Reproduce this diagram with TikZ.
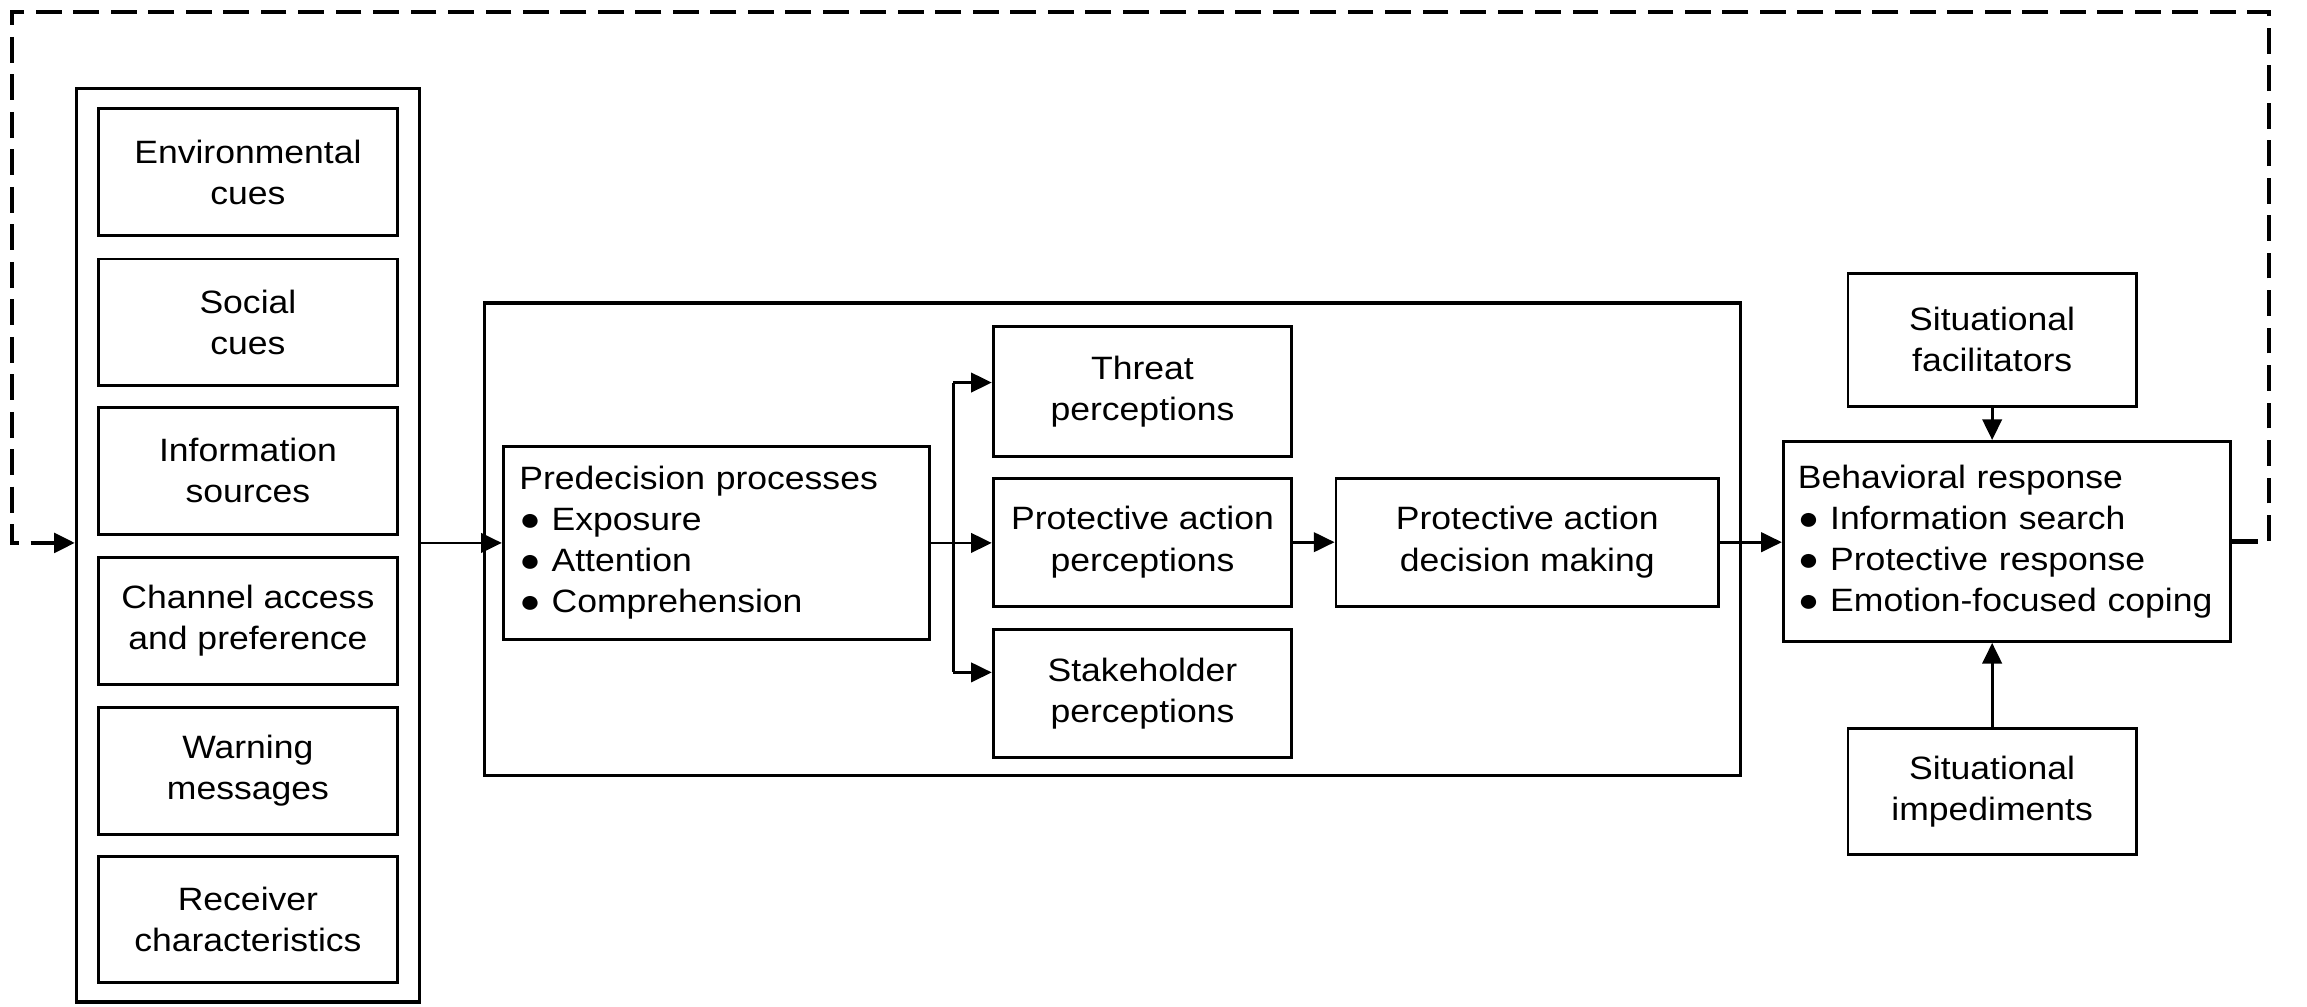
\documentclass[tikz,border=0pt]{standalone}
\usepackage{fontspec}
\setmainfont[FakeStretch=1.1]{Liberation Sans}
\usetikzlibrary{arrows.meta}
\begin{document}
\begin{tikzpicture}[x=0.02cm,y=-0.02cm,
  font=\fontsize{12.5}{15.9}\selectfont,
  box/.style={draw, line width=1.1pt, inner sep=0pt, align=center},
  cont/.style={draw, line width=1.3pt, inner sep=0pt},
  listbox/.style={draw, line width=1.1pt, align=left, inner ysep=0pt},
  arr/.style={line width=1.1pt, -{Triangle[length=8pt,width=7.5pt]}},
  ln/.style={line width=1.1pt},
  looparr/.style={line width=1.6pt, dash pattern=on 10pt off 4.5pt, -{Triangle[length=8pt,width=7.5pt]}},
]
\useasboundingbox (0,0) rectangle (1568,684);

% left container
\node[cont, minimum width=4.66cm, minimum height=12.42cm] (leftc) at (168.5,370.5) {};
\node[box, minimum width=4.06cm, minimum height=1.72cm] (env)  at (168.5,117) {Environmental\\cues};
\node[box, minimum width=4.06cm, minimum height=1.72cm] (soc)  at (168.5,219) {Social\\cues};
\node[box, minimum width=4.06cm, minimum height=1.72cm] (info) at (168.5,320) {Information\\sources};
\node[box, minimum width=4.06cm, minimum height=1.72cm] (chan) at (168.5,422) {Channel access\\and preference};
\node[box, minimum width=4.06cm, minimum height=1.72cm] (warn) at (168.5,524) {Warning\\messages};
\node[box, minimum width=4.06cm, minimum height=1.72cm] (recv) at (168.5,625) {Receiver\\characteristics};

% middle container
\node[cont, minimum width=17.08cm, minimum height=6.42cm] (midc) at (756,366.5) {};
\node[listbox, text width=5.36cm, inner xsep=0.22cm, minimum height=2.62cm] (predec) at (487,369)
  {Predecision processes\\● Exposure\\● Attention\\● Comprehension};
\node[box, minimum width=4.06cm, minimum height=1.76cm] (threat) at (776.5,266) {Threat\\perceptions};
\node[box, minimum width=4.06cm, minimum height=1.74cm] (pap)    at (776.5,368.5) {Protective action\\perceptions};
\node[box, minimum width=4.06cm, minimum height=1.74cm] (stake)  at (776.5,471.5) {Stakeholder\\perceptions};
\node[box, minimum width=5.2cm, minimum height=1.74cm] (decision) at (1038,368.5) {Protective action\\decision making};

% right side
\node[listbox, text width=5.68cm, inner xsep=0.2cm, minimum height=2.72cm] (behav) at (1364,368)
  {Behavioral response\\● Information search\\● Protective response\\● Emotion-focused coping};
\node[box, minimum width=3.92cm, minimum height=1.8cm] (facil) at (1354,231) {Situational\\facilitators};
\node[box, minimum width=3.92cm, minimum height=1.72cm] (imped) at (1354,538) {Situational\\impediments};

% connectors
\draw[arr] (leftc.east |- predec.west) -- (predec.west);
\coordinate (br) at (648,369);
\coordinate (bt) at (648,260);
\coordinate (bb) at (648,457);
\draw[ln] (predec.east) -- (br);
\draw[ln] (bt) -- (bb);
\draw[arr] (bt) -- (bt -| threat.west);
\draw[arr] (br) -- (br -| pap.west);
\draw[arr] (bb) -- (bb -| stake.west);
\draw[arr] (pap.east) -- (pap.east -| decision.west);
\draw[arr] (decision.east) -- (decision.east -| behav.west);
\draw[arr] (facil.south) -- (facil.south |- behav.north);
\draw[arr] (imped.north) -- (imped.north |- behav.south);

% feedback loop
\coordinate (lpR) at (1542,8);
\coordinate (lpL) at (8,8);
\draw[looparr] (behav.east) -| (lpR) -- (lpL) |- (leftc.west |- predec.west);
\end{tikzpicture}
\end{document}
